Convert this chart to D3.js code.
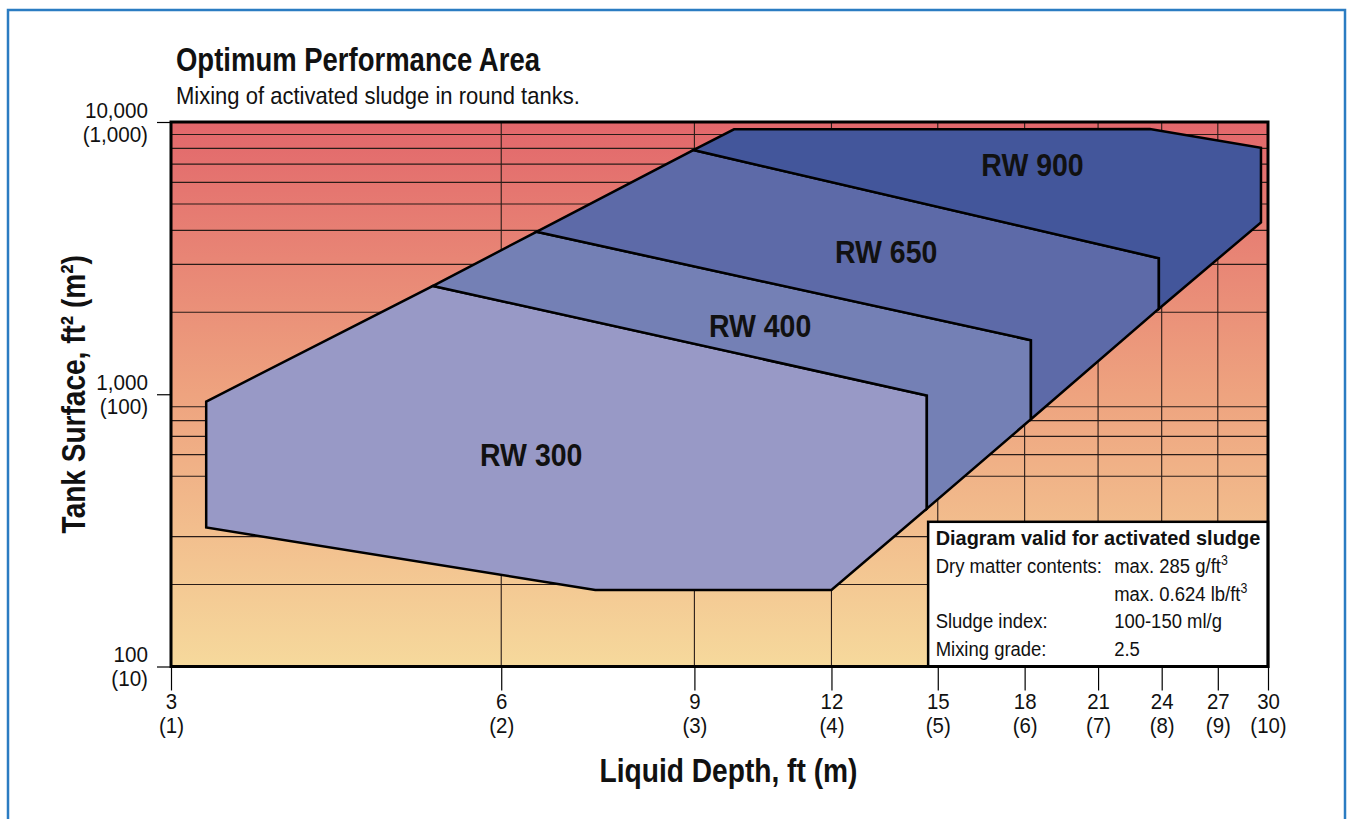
<!DOCTYPE html>
<html>
<head>
<meta charset="utf-8">
<script src="https://cdn.jsdelivr.net/npm/d3@7"></script>
<style>
  html, body { margin: 0; padding: 0; background: #fff; }
  svg { display: block; }
  text { font-family: 'Liberation Sans', Arial, sans-serif; fill: #111; }
</style>
</head>
<body>
<svg id="chart"></svg>
<script>
/* Optimum Performance Area – log/log chart of mixer models (D3 v7) */
'use strict';

const W = 1347, H = 819;
const PLOT = { left: 171, right: 1268, top: 122, bottom: 666.5 };

// ── Data ─────────────────────────────────────────────────────
const X_TICKS   = [3, 6, 9, 12, 15, 18, 21, 24, 27, 30];
const X_TICK_M  = ['(1)', '(2)', '(3)', '(4)', '(5)', '(6)', '(7)', '(8)', '(9)', '(10)'];
const X_GRID    = [6, 9, 12, 15, 18, 21, 24, 27];

const Y_TICKS   = [100, 1000, 10000];
const Y_TICK_FT = ['100', '1,000', '10,000'];
const Y_TICK_M  = ['(10)', '(100)', '(1,000)'];
const Y_GRID    = [200, 300, 500, 600, 700, 800, 900,
                   2000, 3000, 4000, 5000, 6000, 7000, 8000, 9000];

// polygon corners: [depth ft, surface ft²]
const RW300 = [[3.23, 940], [5.2, 2500], [14.66, 990], [14.66, 380], [12.0, 191], [7.31, 191], [3.23, 324]];
const RW400 = [[5.2, 2500], [6.46, 3950], [18.24, 1580], [18.24, 810], [14.66, 380], [14.66, 990]];
const RW650 = [[6.46, 3950], [8.98, 7890], [23.86, 3160], [23.86, 2060], [18.24, 810], [18.24, 1580]];
const RW900 = [[8.98, 7890], [9.78, 9400], [23.41, 9420], [29.56, 8040], [29.56, 4280], [23.86, 2060], [23.86, 3160]];

const MODELS      = ['RW 300', 'RW 400', 'RW 650', 'RW 900'];
const MODEL_AREAS = [RW300, RW400, RW650, RW900];
const MODEL_COLOR = ['#9899c6', '#7480b5', '#5d6aa8', '#43569b'];
const LABEL_AT    = [[6.39, 598], [10.33, 1781], [13.46, 3330], [18.3, 6950]];

const INFO_TITLE = 'Diagram valid for activated sludge';
const INFO_ROWS  = [
  ['Dry matter contents:', 'max. 285 g/ft', '3'],
  ['',                     'max. 0.624 lb/ft', '3'],
  ['Sludge index:',        '100-150 ml/g', ''],
  ['Mixing grade:',        '2.5', ''],
];

// ── Helpers ──────────────────────────────────────────────────
// condensed text: the source uses a narrow face, so squeeze horizontally
function addText(parent, x0, y0, str, size, opts = {}) {
  return parent.append('text')
    .attr('transform', `translate(${x0},${y0}) scale(${opts.sx || 1},1)`)
    .attr('font-size', size)
    .attr('font-weight', opts.bold ? 'bold' : null)
    .attr('text-anchor', opts.anchor || 'start')
    .text(str);
}

// ── Scales ───────────────────────────────────────────────────
const x = d3.scaleLog().domain([3, 30]).range([PLOT.left, PLOT.right]);
const y = d3.scaleLog().domain([100, 10000]).range([PLOT.bottom, PLOT.top]);

const svg = d3.select('#chart').attr('width', W).attr('height', H);

// outer blue frame
svg.append('rect')
  .attr('x', 8).attr('y', 10).attr('width', W - 10).attr('height', H + 20)
  .attr('fill', 'none').attr('stroke', '#2b7cc2').attr('stroke-width', 2.5);

// ── Background gradient ──────────────────────────────────────
const grad = svg.append('defs').append('linearGradient')
  .attr('id', 'bg').attr('x1', 0).attr('y1', 0).attr('x2', 0).attr('y2', 1);
grad.append('stop').attr('offset', '0%').attr('stop-color', '#e2676b');
grad.append('stop').attr('offset', '50%').attr('stop-color', '#eea37f');
grad.append('stop').attr('offset', '100%').attr('stop-color', '#f6d99c');

svg.append('rect')
  .attr('x', PLOT.left).attr('y', PLOT.top)
  .attr('width', PLOT.right - PLOT.left).attr('height', PLOT.bottom - PLOT.top)
  .attr('fill', 'url(#bg)');

// ── Grid ─────────────────────────────────────────────────────
const grid = svg.append('g').attr('stroke', '#2a1c18').attr('stroke-width', 1.1);
grid.selectAll('line.h').data(Y_GRID).join('line')
  .attr('x1', PLOT.left).attr('x2', PLOT.right)
  .attr('y1', d => y(d)).attr('y2', d => y(d));
grid.selectAll('line.v').data(X_GRID).join('line')
  .attr('y1', PLOT.top).attr('y2', PLOT.bottom)
  .attr('x1', d => x(d)).attr('x2', d => x(d));

// ── Model areas ──────────────────────────────────────────────
const area = d3.line().x(d => x(d[0])).y(d => y(d[1]));

svg.append('g').selectAll('path').data(MODEL_AREAS).join('path')
  .attr('d', d => area(d) + 'Z')
  .attr('fill', (d, i) => MODEL_COLOR[i])
  .attr('stroke', '#000').attr('stroke-width', 2.5)
  .attr('stroke-linejoin', 'miter');

const labels = svg.append('g');
MODELS.forEach((m, i) => {
  addText(labels, x(LABEL_AT[i][0]), y(LABEL_AT[i][1]) + 11, m, 32,
    { bold: true, sx: 0.89, anchor: 'middle' });
});

// ── Info box ─────────────────────────────────────────────────
const box = svg.append('g');
const bx = x(14.7), by = y(340);
box.append('rect')
  .attr('x', bx).attr('y', by)
  .attr('width', PLOT.right - bx).attr('height', PLOT.bottom - by)
  .attr('fill', '#fff').attr('stroke', '#000').attr('stroke-width', 2.5);
addText(box, bx + 7.5, by + 23, INFO_TITLE, 21, { bold: true, sx: 0.95 });

INFO_ROWS.forEach((r, i) => {
  const ry = by + 51 + i * 27.8;
  addText(box, bx + 7.5, ry, r[0], 21, { sx: 0.88 });
  const v = addText(box, bx + 186, ry, null, 21, { sx: 0.88 });
  v.append('tspan').text(r[1]);
  v.append('tspan').attr('font-size', 14).attr('dy', -8).text(r[2]);
});

// ── Plot frame ───────────────────────────────────────────────
svg.append('rect')
  .attr('x', PLOT.left).attr('y', PLOT.top)
  .attr('width', PLOT.right - PLOT.left).attr('height', PLOT.bottom - PLOT.top)
  .attr('fill', 'none').attr('stroke', '#000').attr('stroke-width', 3);

// ── Axes ─────────────────────────────────────────────────────
const xAxis = svg.append('g')
  .attr('transform', `translate(0,${PLOT.bottom})`)
  .call(d3.axisBottom(x).tickValues(X_TICKS).tickSize(24).tickFormat(d => d));
xAxis.select('.domain').remove();
xAxis.selectAll('.tick line').attr('stroke', '#000').attr('stroke-width', 1.2);
xAxis.selectAll('.tick text').each(function (d, i) {
  const t = d3.select(this).text(null)
    .attr('font-size', 21.5).attr('fill', '#111').attr('y', null).attr('dy', null)
    .attr('font-family', null).attr('transform', 'scale(0.95,1)');
  t.append('tspan').attr('x', 0).attr('y', 43).text(d);
  t.append('tspan').attr('x', 0).attr('y', 67).text(X_TICK_M[i]);
});

const yAxis = svg.append('g')
  .attr('transform', `translate(${PLOT.left},0)`)
  .call(d3.axisLeft(y).tickValues(Y_TICKS).tickSize(14).tickFormat(d => d));
yAxis.select('.domain').remove();
yAxis.selectAll('.tick line').attr('stroke', '#000').attr('stroke-width', 1.2);
yAxis.selectAll('.tick text').each(function (d, i) {
  const t = d3.select(this).text(null)
    .attr('font-size', 21.5).attr('fill', '#111').attr('x', null).attr('dy', null)
    .attr('font-family', null).attr('text-anchor', 'end')
    .attr('transform', 'translate(-23,0) scale(0.96,1)');
  t.append('tspan').attr('x', 0).attr('y', -5).text(Y_TICK_FT[i]);
  t.append('tspan').attr('x', 0).attr('y', 19).text(Y_TICK_M[i]);
});

// ── Titles ───────────────────────────────────────────────────
addText(svg, 176, 71, 'Optimum Performance Area', 33, { bold: true, sx: 0.833 });
addText(svg, 176, 104, 'Mixing of activated sludge in round tanks.', 24, { sx: 0.918 });

addText(svg, (x(3) + x(30)) / 2 + 9, 782, 'Liquid Depth, ft (m)', 33,
  { bold: true, sx: 0.853, anchor: 'middle' });

addText(svg.append('g')
    .attr('transform', `translate(85,${(PLOT.top + PLOT.bottom) / 2}) rotate(-90)`),
  0, 0, 'Tank Surface, ft² (m²)', 33, { bold: true, sx: 0.85, anchor: 'middle' });
</script>
</body>
</html>
